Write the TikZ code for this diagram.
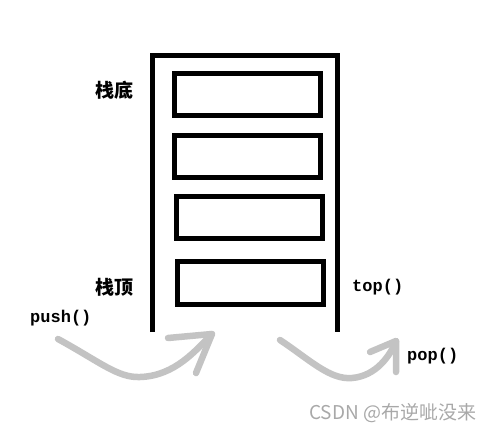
\documentclass[tikz,border=0pt]{standalone}
\usepackage{fontspec}
\usepackage{tikz}
\usetikzlibrary{positioning}
\newfontfamily\cjk{Noto Sans CJK SC}
\newfontfamily\codefont{Liberation Mono}
\definecolor{arrowgray}{HTML}{C3C3C3}
\definecolor{wmgray}{HTML}{A8A8A8}

\begin{document}
\begin{tikzpicture}[
    x=1pt, y=-1pt,
    slot/.style={draw, line width=5pt, minimum width=146pt, minimum height=42pt, inner sep=0pt, outer sep=0pt},
    wall/.style={line width=5pt},
    side/.style={font=\cjk\bfseries\fontsize{19}{19}\selectfont, inner sep=0pt},
    call/.style={font=\codefont\bfseries\fontsize{17}{17}\selectfont, inner sep=0pt},
    move/.style={draw=arrowgray, line width=6.5pt, line cap=round, line join=round}
]
\useasboundingbox (0,0) rectangle (497,433);

% container
\coordinate (wl) at (152.5,332);
\coordinate (wr) at (337.5,332);
\draw[wall] (wl) -- (152.5,55.5) -- (337.5,55.5) -- (wr);

% stack slots
\node[slot] (box1) at (247.5,94.5) {};
\node[slot] (box2) at (247.5,156.5) {};
\node[slot] (box3) at (249,217.5) {};
\node[slot, minimum height=43pt] (box4) at (250.5,283) {};

% labels
\node[side, anchor=east] (bottom) at (134,90) {栈底};
\node[side, anchor=east] (topside) at (134,287) {栈顶};
\node[call, anchor=west] (push) at (30,318) {push()};
\node[call, anchor=west] (top) at (352,287) {top()};
\node[call, anchor=west] (pop) at (407,356) {pop()};

% push arrow
\coordinate (ps) at (58,339);
\coordinate (pt) at (212,334);
\draw[move] (ps) .. controls (100,362) and (118,378) .. (140,377)
  .. controls (175,376) and (196,350) .. (pt);
\draw[move] (168,338) -- (pt) -- (196,373);

% pop arrow
\coordinate (qs) at (280,340);
\coordinate (qt) at (396,341);
\draw[move] (qs) .. controls (310,360) and (330,380) .. (352,378)
  .. controls (376,376) and (390,356) .. (qt);
\draw[move] (370,352) -- (qt) -- (396,372);

% watermark
\node[anchor=west, wmgray, font=\cjk\fontsize{19}{19}\selectfont, inner sep=0pt] (wm) at (309,413) {CSDN @布逆呲没来};
\end{tikzpicture}
\end{document}
